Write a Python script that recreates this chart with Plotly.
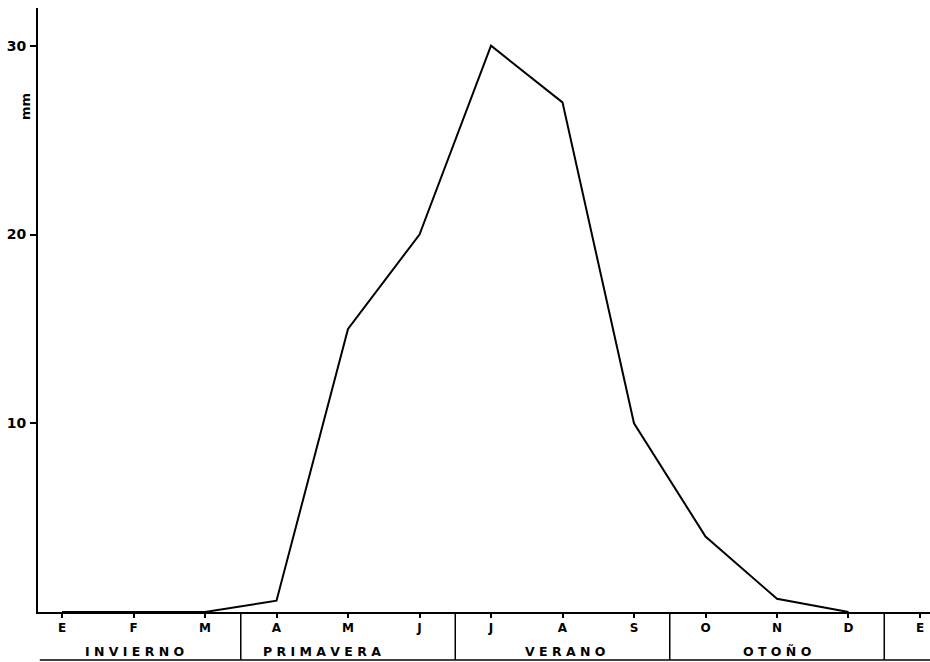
import plotly.graph_objects as go

# monthly precipitation (mm), January to January
months = ["E", "F", "M", "A", "M", "J", "J", "A", "S", "O", "N", "D", "E"]
rain_mm = [0, 0, 0, 0.6, 15, 20, 30, 27, 10, 4, 0.7, 0, None]

seasons = ["I N V I E R N O", "P R I M A V E R A", "V E R A N O", "O T O Ñ O"]
season_centers = [1.02, 3.64, 7.03, 10.0]
season_bounds = [2.5, 5.5, 8.5, 11.5]

FONT = "DejaVu Sans, Liberation Sans, Arial, sans-serif"
x_idx = list(range(len(months)))

PLOT_H = 604  # plot area height in px (662 - 8 top - 50 bottom)

fig = go.Figure()
fig.add_trace(
    go.Scatter(
        x=x_idx,
        y=rain_mm,
        mode="lines",
        line=dict(color="black", width=2),
        hoverinfo="skip",
        showlegend=False,
    )
)

fig.update_xaxes(
    range=[-0.336, 12.14],
    tickvals=x_idx,
    ticktext=months,
    ticks="outside",
    ticklen=4,
    tickwidth=1.5,
    tickcolor="black",
    showline=True,
    linecolor="black",
    linewidth=2,
    showgrid=False,
    zeroline=False,
    tickfont=dict(family=FONT, size=12, color="black", weight="bold"),
)
fig.update_yaxes(
    range=[0, 32],
    tickvals=[10, 20, 30],
    ticks="outside",
    ticklen=6,
    tickwidth=1.5,
    tickcolor="black",
    showline=True,
    linecolor="black",
    linewidth=2,
    showgrid=False,
    zeroline=False,
    ticklabelstandoff=1,
    tickfont=dict(family=FONT, size=14, color="black", weight="bold"),
)

# season boxes under the month axis
box_bottom = -48 / PLOT_H
shapes = [
    dict(type="line", xref="paper", yref="paper", x0=0.002, x1=1, y0=box_bottom, y1=box_bottom,
         line=dict(color="black", width=1.5))
]
for b in season_bounds:
    shapes.append(
        dict(type="line", xref="x", yref="paper", x0=b, x1=b, y0=0, y1=box_bottom,
             line=dict(color="black", width=1.5))
    )

annotations = [
    dict(text=name, x=cx, xref="x", y=-39 / PLOT_H, yref="paper", showarrow=False,
         xanchor="center", yanchor="middle",
         font=dict(family=FONT, size=12.5, color="black", weight="bold"))
    for name, cx in zip(seasons, season_centers)
]
annotations.append(
    dict(text="mm", textangle=-90, x=0, xref="paper", xshift=-13, y=(612 - 107) / PLOT_H,
         yref="paper", showarrow=False, xanchor="center", yanchor="middle",
         font=dict(family=FONT, size=13, color="black", weight="bold"))
)

fig.update_layout(
    width=930,
    height=662,
    margin=dict(l=38, r=0, t=8, b=50),
    paper_bgcolor="white",
    plot_bgcolor="white",
    shapes=shapes,
    annotations=annotations,
)

# drop the default body margin so the figure fills the window
fig.write_html(
    "out.html",
    config={"displayModeBar": False},
    post_script="document.body.style.margin='0';document.body.style.overflow='hidden';",
)
